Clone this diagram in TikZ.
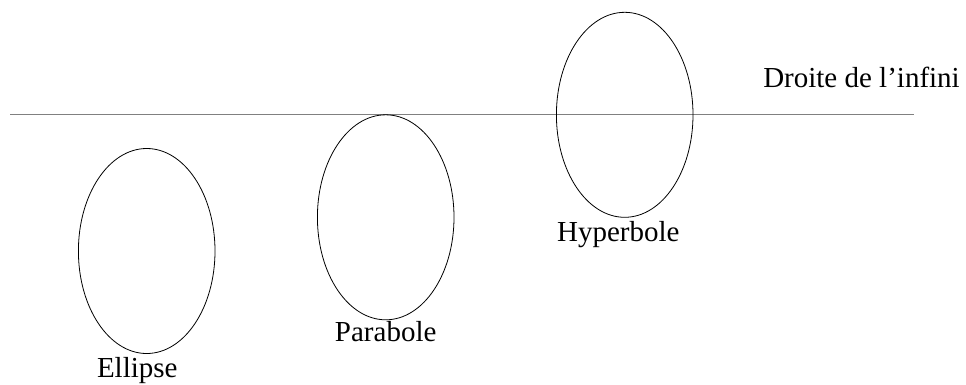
\documentclass[tikz,border=0pt]{standalone}
\usepackage{fontspec}
\setmainfont{Liberation Serif}
\usetikzlibrary{math}

\begin{document}
\begin{tikzpicture}[x=1pt,y=-1pt,
  conique/.style={line width=0.8pt},
  nom/.style={anchor=base,inner sep=0pt,font=\fontsize{29}{34}\selectfont}]
\tikzmath{
\a=68.3;
\b=102.5;
\yinf=114.8;
}
\useasboundingbox (0,0) rectangle (966,384);
\coordinate (E) at (146.7,251);
\coordinate (P) at (385.7,\yinf+\b);
\coordinate (H) at (624.7,\yinf);
\coordinate (G) at (10,\yinf);
\coordinate (D) at (914,\yinf);

\draw[gray,line width=1pt] (G) -- (D);
\node[nom] (droite) at (861.5,87) {Droite de l'infini};

\draw[conique] (E) ellipse [x radius=\a, y radius=\b];
\draw[conique] (P) ellipse [x radius=\a, y radius=\b];
\draw[conique] (H) ellipse [x radius=\a, y radius=\b];

\node[nom] (ellipse) at (137.3,377.3) {Ellipse};
\node[nom] (parabole) at (385.7,341.7) {Parabole};
\node[nom] (hyperbole) at (618.3,241.7) {Hyperbole};
\end{tikzpicture}
\end{document}
